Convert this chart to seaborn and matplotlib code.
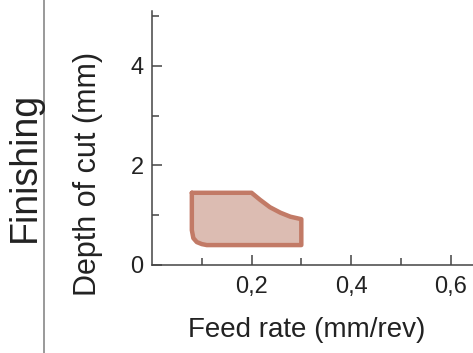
import numpy as np
import pandas as pd
import matplotlib
matplotlib.use('Agg')
import matplotlib.pyplot as plt
import seaborn as sns

# outline of the finishing window (feed rate mm/rev, depth of cut mm)
feed = [0.08, 0.20, 0.217, 0.237, 0.258, 0.278, 0.30, 0.30, 0.11, 0.10, 0.09, 0.083, 0.08, 0.08]
depth = [1.45, 1.45, 1.31, 1.16, 1.05, 0.97, 0.92, 0.40, 0.40, 0.42, 0.46, 0.54, 0.70, 1.45]
xmajor = [0.2, 0.4, 0.6]
xlabels = ['0,2', '0,4', '0,6']
ymajor = [0, 2, 4]

sns.set_style('ticks')
plt.rcParams['font.family'] = ['Liberation Sans', 'DejaVu Sans']

fig = plt.figure(figsize=(4.73, 3.53), dpi=100)
ax = fig.add_axes([0.3214, 0.2493, 0.6786, 0.7195])

df = pd.DataFrame({'feed': feed, 'depth': depth})
ax.fill(df['feed'], df['depth'], color='#dcbcb2', lw=0)
sns.lineplot(data=df, x='feed', y='depth', sort=False, estimator=None, color='#c27a66',
             lw=3.2, solid_joinstyle='round', ax=ax)

ax.set_xlim(0, 0.645)
ax.set_ylim(0, 5.1)
ax.set_xticks(xmajor)
ax.set_xticklabels(xlabels)
ax.set_xticks([0.1, 0.3, 0.5], minor=True)
ax.set_yticks(ymajor)
ax.set_yticks([1, 3, 5], minor=True)
ax.tick_params(which='both', direction='in', color='#444444', width=1.1, labelsize=17, labelcolor='#222222')
ax.tick_params(which='major', length=7.5)
ax.tick_params(which='minor', length=5)
ax.tick_params(axis='x', pad=8)
ax.tick_params(axis='y', pad=6)
for s in ['top', 'right']:
    ax.spines[s].set_visible(False)
for s in ['left', 'bottom']:
    ax.spines[s].set_color('#444444')
    ax.spines[s].set_linewidth(1.1)
ax.set_xlabel('')
ax.set_ylabel('')

fig.text(0.649, 0.065, 'Feed rate (mm/rev)', ha='center', va='center', fontsize=20, color='#222222')
fig.text(88 / 473, (353 - 174) / 353, 'Depth of cut (mm)', rotation=90, ha='center', va='center', fontsize=22, color='#222222')
fig.text(25 / 473, (353 - 167) / 353, 'Finishing', rotation=90, ha='center', va='center', fontsize=27, color='#222222')
fig.add_artist(plt.Line2D([44 / 473, 44 / 473], [0, 1], color='#888888', lw=1.2, transform=fig.transFigure))

fig.savefig('out.png', dpi=100)
